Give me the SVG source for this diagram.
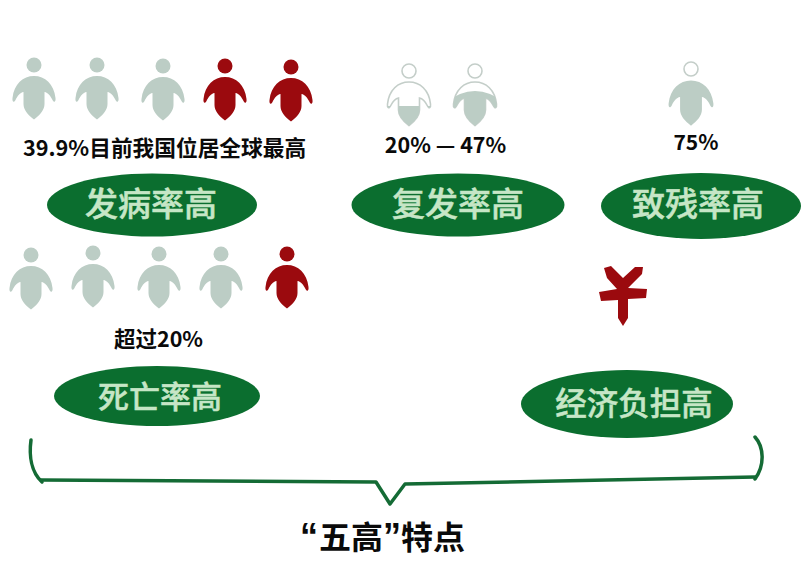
<svg xmlns="http://www.w3.org/2000/svg" width="804" height="577" viewBox="0 0 804 577">
<style>
.gy{fill:#bccdc5}.rd{fill:#9b0a0e}
.ov{fill:#0b6e2f}
.lb{font-family:"Noto Sans CJK SC","Noto Sans",sans-serif;fill:#c6e6c6;stroke:#c6e6c6;stroke-width:.5;text-anchor:middle;font-weight:500}
.tx{font-family:"Noto Sans CJK SC","Noto Sans",sans-serif;fill:#0a0a0a;text-anchor:middle;font-weight:700}
.ol{fill:#fff;stroke:#c4cec9;stroke-width:1.6}
.br{fill:none;stroke:#146b35;stroke-width:3.500;stroke-linecap:round;stroke-linejoin:round}
</style>
<defs>
<path id="b" d="M0,11C11,11 20,19 21.500,33C22,37 20,38 18.500,35C16.500,31 14,27.500 10.500,27L10.500,39C10.500,45 6,50 0,54.500C-6,50 -10.500,45 -10.500,39L-10.500,27C-14,27.500 -16.500,31 -18.500,35C-20,38 -22,37 -21.500,33C-20,19 -11,11 0,11Z"/>
<g id="g"><circle class="gy" r="7.500"/><use href="#b" class="gy"/></g>
<g id="r"><circle class="rd" r="7.500"/><use href="#b" class="rd"/></g>
<clipPath id="c1"><rect x="-30" y="35" width="60" height="30"/></clipPath>
<clipPath id="c2"><path d="M-30,32Q0,8 30,32V64H-30Z"/></clipPath>
</defs>
<g id="person-row-1">
<use href="#g" x="34" y="65"/><use href="#g" x="97" y="65"/><use href="#g" x="163" y="66"/><use href="#r" x="225" y="66"/><use href="#r" x="291" y="67"/>
</g>
<g id="person-row-2">
<use href="#g" x="31" y="255"/><use href="#g" x="93" y="253"/><use href="#g" x="159" y="254"/><use href="#g" x="221" y="254"/><use href="#r" x="287" y="254"/>
</g>
<g id="person-recur-1" transform="translate(409 71)"><circle class="ol" r="7"/><use href="#b" class="ol"/><use href="#b" class="gy" clip-path="url(#c1)"/></g>
<g id="person-recur-2" transform="translate(475 71)"><circle class="ol" r="7"/><use href="#b" class="ol"/><use href="#b" class="gy" clip-path="url(#c2)"/></g>
<g id="person-disable" transform="translate(691 69)"><circle class="ol" r="7"/><use href="#b" class="gy" transform="scale(1.040)"/></g>
<g id="yen"><path class="rd" d="M604,268L611,266L623,278L635,267L643,267L642,274L628,288L647,289L646,298L628,299L628,318L623,326L618,318L618,300L601,301L599,292L617,289L607,278Z"/></g>
<g id="label-1"><text class="tx" x="164.500" y="156" font-size="21.700">39.9%目前我国位居全球最高</text></g>
<g id="label-2"><text class="tx" x="445.500" y="153" font-size="21.500">20% — 47%</text></g>
<g id="label-3"><text class="tx" x="696" y="150" font-size="21">75%</text></g>
<g id="label-4"><text class="tx" x="158.500" y="347" font-size="21.500">超过20%</text></g>
<g id="node-fabing"><ellipse class="ov" cx="152" cy="205" rx="105" ry="31.500"/><text class="lb" x="151" y="216" font-size="33">发病率高</text></g>
<g id="node-fufa"><ellipse class="ov" cx="458" cy="205" rx="106.500" ry="31.500"/><text class="lb" x="458" y="216" font-size="33">复发率高</text></g>
<g id="node-zhican"><ellipse class="ov" cx="701" cy="206" rx="100" ry="33"/><text class="lb" x="698" y="216" font-size="33">致残率高</text></g>
<g id="node-siwang"><ellipse class="ov" cx="157" cy="396" rx="103" ry="30"/><text class="lb" x="160" y="408" font-size="31">死亡率高</text></g>
<g id="node-jingji"><ellipse class="ov" cx="627" cy="404" rx="106" ry="34"/><text class="lb" x="634" y="415" font-size="31.500">经济负担高</text></g>
<g id="connectors">
<path class="br" d="M31,440C29,455 31,472 42,482"/>
<path class="br" d="M41,480L376,482L390,504L405,484L755,477"/>
<path class="br" d="M755,437C764,447 765,465 755,479"/>
</g>
<g id="title"><text class="tx" x="300" y="549" font-size="32" style="text-anchor:start"><tspan font-family="Liberation Sans" font-size="36">“</tspan><tspan dx="1">五高</tspan><tspan font-family="Liberation Sans" font-size="36">”</tspan><tspan dx="0">特点</tspan></text></g>
</svg>
